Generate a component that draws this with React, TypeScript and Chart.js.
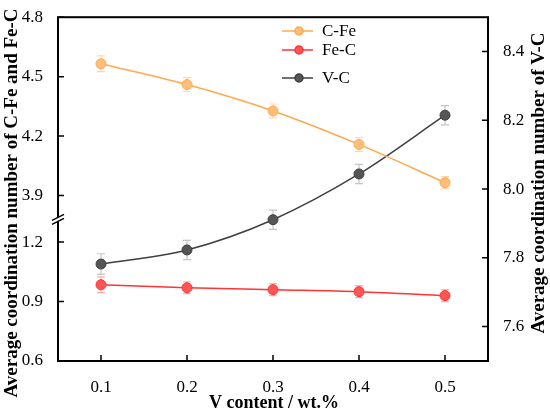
import { useEffect, useRef } from 'react';
import { Chart, registerables } from 'chart.js';

Chart.register(...registerables);

const vContent = [0.1, 0.2, 0.3, 0.4, 0.5];
const cFe = [4.565, 4.46, 4.327, 4.158, 3.965];
const cFeErr = [0.04, 0.035, 0.035, 0.035, 0.03];
const feC = [0.985, 0.97, 0.96, 0.95, 0.93];
const feCErr = [0.04, 0.03, 0.03, 0.03, 0.03];
const vC = [7.782, 7.823, 7.911, 8.044, 8.215];
const vCErr = [0.03, 0.028, 0.028, 0.028, 0.028];

const leftTicks = [0.6, 0.9, 1.2, 3.9, 4.2, 4.5, 4.8];
const rightTicks = [7.6, 7.8, 8.0, 8.2, 8.4];
const xTicks = [0.1, 0.2, 0.3, 0.4, 0.5];

// broken left axis: the upper segment is shifted down onto the same linear scale
const BREAK_AT = 1.33;
const SHIFT = 2.465;
const toAxis = (v: number) => (v > 2 ? v - SHIFT : v);
const fromAxis = (v: number) => (v > BREAK_AT ? v + SHIFT : v);

const SERIF = '"Liberation Serif", "Times New Roman", serif';

const series = [
  { label: 'C-Fe', values: cFe, err: cFeErr, axis: 'y', line: '#FFA94D', fill: '#FFBE7A', bar: 'rgba(255,169,77,0.45)' },
  { label: 'Fe-C', values: feC, err: feCErr, axis: 'y', line: '#FF3333', fill: '#FF5555', bar: 'rgba(255,51,51,0.4)' },
  { label: 'V-C', values: vC, err: vCErr, axis: 'y1', line: '#404040', fill: '#555555', bar: 'rgba(90,90,90,0.35)' },
];

const decor = {
  id: 'decor',
  beforeDatasetsDraw(chart: any) {
    const ctx = chart.ctx;
    const xs = chart.scales.x;
    ctx.save();
    ctx.lineWidth = 1.2;
    series.forEach((s) => {
      const ys = chart.scales[s.axis];
      const conv = s.axis === 'y' ? toAxis : (v: number) => v;
      ctx.strokeStyle = s.bar;
      s.values.forEach((v, j) => {
        const x = xs.getPixelForValue(vContent[j]);
        const t = ys.getPixelForValue(conv(v + s.err[j]));
        const b = ys.getPixelForValue(conv(v - s.err[j]));
        ctx.beginPath();
        ctx.moveTo(x, t); ctx.lineTo(x, b);
        ctx.moveTo(x - 4, t); ctx.lineTo(x + 4, t);
        ctx.moveTo(x - 4, b); ctx.lineTo(x + 4, b);
        ctx.stroke();
      });
    });
    ctx.restore();
  },
  afterDraw(chart: any) {
    const ctx = chart.ctx;
    const { left, right, top, bottom } = chart.chartArea;
    ctx.save();
    // frame
    ctx.strokeStyle = '#000';
    ctx.lineWidth = 2;
    ctx.strokeRect(left, top, right - left, bottom - top);
    // inward ticks
    ctx.lineWidth = 1.5;
    ctx.beginPath();
    chart.scales.x.ticks.forEach((t: any) => {
      const x = chart.scales.x.getPixelForValue(t.value);
      ctx.moveTo(x, bottom); ctx.lineTo(x, bottom - 6);
    });
    chart.scales.y.ticks.forEach((t: any) => {
      const y = chart.scales.y.getPixelForValue(t.value);
      ctx.moveTo(left, y); ctx.lineTo(left + 6, y);
    });
    chart.scales.y1.ticks.forEach((t: any) => {
      const y = chart.scales.y1.getPixelForValue(t.value);
      ctx.moveTo(right, y); ctx.lineTo(right - 6, y);
    });
    ctx.stroke();
    // axis break
    const by = chart.scales.y.getPixelForValue(BREAK_AT) + 3;
    ctx.fillStyle = '#fff';
    ctx.beginPath();
    ctx.moveTo(left - 6, by + 1); ctx.lineTo(left + 6, by - 5);
    ctx.lineTo(left + 6, by - 1); ctx.lineTo(left - 6, by + 5);
    ctx.closePath();
    ctx.fill();
    ctx.lineWidth = 1.5;
    ctx.beginPath();
    ctx.moveTo(left - 6, by + 1); ctx.lineTo(left + 6, by - 5);
    ctx.moveTo(left - 6, by + 5); ctx.lineTo(left + 6, by - 1);
    ctx.stroke();
    // legend
    const rows = [31, 50, 78];
    series.forEach((s, i) => {
      const y = rows[i];
      ctx.strokeStyle = s.line;
      ctx.lineWidth = 1.5;
      ctx.beginPath();
      ctx.moveTo(282, y); ctx.lineTo(313, y);
      ctx.stroke();
      ctx.fillStyle = s.fill;
      ctx.beginPath();
      ctx.arc(299, y, 4, 0, Math.PI * 2);
      ctx.fill();
      ctx.stroke();
      ctx.fillStyle = '#000';
      ctx.font = `17px ${SERIF}`;
      ctx.textAlign = 'left';
      ctx.textBaseline = 'middle';
      ctx.fillText(s.label, 322, y + 1);
    });
    // axis titles
    ctx.fillStyle = '#000';
    ctx.textAlign = 'center';
    ctx.textBaseline = 'middle';
    ctx.font = `bold 18px ${SERIF}`;
    ctx.fillText('V content / wt.%', 274, 403);
    ctx.font = `bold 19px ${SERIF}`;
    ctx.save();
    ctx.translate(12, 203);
    ctx.rotate(-Math.PI / 2);
    ctx.fillText('Average coordination number of C-Fe and Fe-C', 0, 0);
    ctx.restore();
    ctx.save();
    ctx.translate(539, 183);
    ctx.rotate(-Math.PI / 2);
    ctx.fillText('Average coordination number of V-C', 0, 0);
    ctx.restore();
    ctx.restore();
  },
};

export default function App() {
  const canvasRef = useRef<HTMLCanvasElement>(null);
  const chartRef = useRef<Chart | null>(null);

  useEffect(() => {
    if (!canvasRef.current) return;
    chartRef.current?.destroy();
    const tickFont = { family: SERIF, size: 17 };
    chartRef.current = new Chart(canvasRef.current, {
      type: 'line',
      data: {
        datasets: series.map((s) => ({
          label: s.label,
          data: s.values.map((v, j) => ({ x: vContent[j], y: s.axis === 'y' ? toAxis(v) : v })),
          yAxisID: s.axis,
          borderColor: s.line,
          borderWidth: 1.5,
          pointBackgroundColor: s.fill,
          pointBorderColor: s.line,
          pointBorderWidth: 1,
          pointRadius: 5,
          tension: 0.35,
          cubicInterpolationMode: 'monotone',
        })),
      },
      options: {
        animation: false,
        responsive: true,
        maintainAspectRatio: false,
        layout: { padding: { top: 14, left: 0, right: 0, bottom: 0 } },
        plugins: { legend: { display: false }, tooltip: { enabled: false } },
        scales: {
          x: {
            type: 'linear',
            min: 0.05,
            max: 0.55,
            grid: { display: false },
            border: { display: false },
            afterBuildTicks: (s: any) => { s.ticks = xTicks.map((v) => ({ value: v })); },
            afterFit: (s: any) => { s.height = 52; },
            ticks: { color: '#000', font: tickFont, padding: 8, callback: (v: any) => Number(v).toFixed(1) },
          },
          y: {
            type: 'linear',
            position: 'left',
            min: 0.6,
            max: 4.8 - SHIFT,
            grid: { display: false },
            border: { display: false },
            afterBuildTicks: (s: any) => { s.ticks = leftTicks.map((v) => ({ value: toAxis(v) })); },
            afterFit: (s: any) => { s.width = 58; },
            ticks: { color: '#000', font: tickFont, padding: 7, callback: (v: any) => fromAxis(Number(v)).toFixed(1) },
          },
          y1: {
            type: 'linear',
            position: 'right',
            min: 7.5,
            max: 8.5,
            grid: { display: false },
            border: { display: false },
            afterBuildTicks: (s: any) => { s.ticks = rightTicks.map((v) => ({ value: v })); },
            afterFit: (s: any) => { s.width = 62; },
            ticks: { color: '#000', font: tickFont, padding: 7, callback: (v: any) => Number(v).toFixed(1) },
          },
        },
      },
      plugins: [decor],
    } as never);
    return () => { chartRef.current?.destroy(); };
  }, []);

  return (
    <div style={{ position: 'fixed', left: 0, top: 0, width: 550, height: 413, background: '#fff' }}>
      <canvas ref={canvasRef} />
    </div>
  );
}
